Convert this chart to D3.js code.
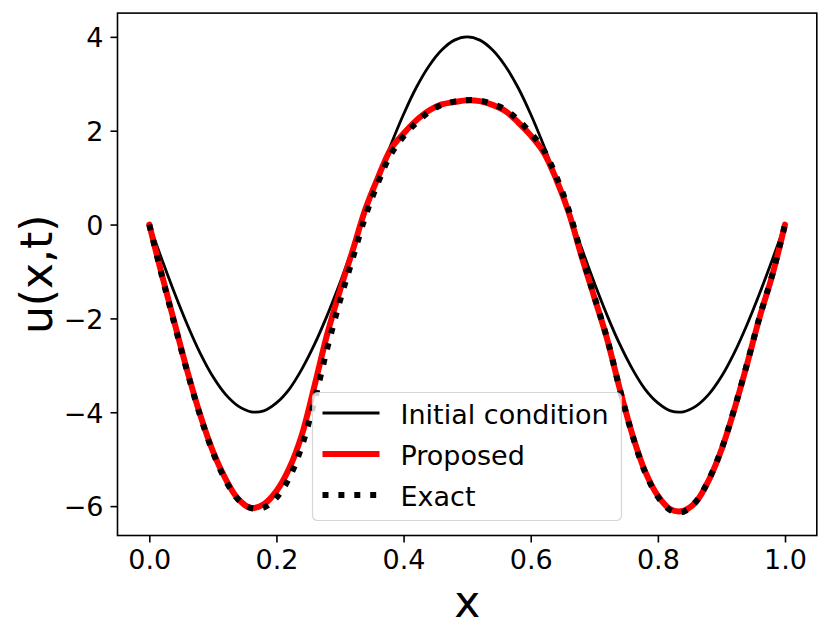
<!DOCTYPE html>
<html>
<head>
<meta charset="utf-8">
<script src="https://cdn.jsdelivr.net/npm/d3@7"></script>
<style>
  body { margin: 0; background: #fff; }
  text { font-family: "DejaVu Sans", sans-serif; }
</style>
</head>
<body>
<div id="chart"></div>
<script>
// values (x step 0.02)
const xValues = [0.00, 0.02, 0.04, 0.06, 0.08, 0.10, 0.12, 0.14, 0.16, 0.18,
    0.20, 0.22, 0.24, 0.26, 0.28, 0.30, 0.32, 0.34, 0.36, 0.38,
    0.40, 0.42, 0.44, 0.46, 0.48, 0.50, 0.52, 0.54, 0.56, 0.58,
    0.60, 0.62, 0.64, 0.66, 0.68, 0.70, 0.72, 0.74, 0.76, 0.78,
    0.80, 0.82, 0.84, 0.86, 0.88, 0.90, 0.92, 0.94, 0.96, 0.98, 1.00];

const initialCondition = [0, -0.75, -1.47, -2.14, -2.74, -3.24, -3.62, -3.87, -3.99, -3.97,
    -3.80, -3.51, -3.08, -2.55, -1.93, -1.24, -0.50, 0.25, 0.99, 1.70,
    2.35, 2.92, 3.38, 3.72, 3.93, 4.00, 3.93, 3.72, 3.38, 2.92,
    2.35, 1.70, 0.99, 0.25, -0.50, -1.24, -1.93, -2.55, -3.08, -3.51,
    -3.80, -3.97, -3.99, -3.87, -3.62, -3.24, -2.74, -2.14, -1.47, -0.75, 0];

const proposed = [0, -1.08, -2.11, -3.13, -4.05, -4.83, -5.42, -5.85, -6.04, -5.96,
    -5.68, -5.20, -4.48, -3.43, -2.33, -1.40, -0.55, 0.33, 1.01, 1.61,
    1.94, 2.22, 2.43, 2.56, 2.61, 2.65, 2.63, 2.55, 2.42, 2.18,
    1.90, 1.55, 0.97, 0.25, -0.68, -1.55, -2.43, -3.50, -4.48, -5.26,
    -5.78, -6.07, -6.10, -5.91, -5.45, -4.80, -3.95, -2.99, -1.98, -1.08, 0];

const exact = [0, -1.10, -2.14, -3.15, -4.07, -4.85, -5.45, -5.86, -6.04, -6.03,
    -5.82, -5.40, -4.72, -3.75, -2.63, -1.62, -0.72, 0.18, 0.90, 1.50,
    1.88, 2.17, 2.40, 2.55, 2.62, 2.65, 2.64, 2.57, 2.45, 2.23,
    1.95, 1.60, 1.03, 0.30, -0.64, -1.53, -2.42, -3.50, -4.49, -5.28,
    -5.80, -6.09, -6.12, -5.90, -5.44, -4.79, -3.94, -2.98, -1.97, -1.07, 0];

const xTicks = [0, 0.2, 0.4, 0.6, 0.8, 1.0];
const yTicks = [-6, -4, -2, 0, 2, 4];
const seriesNames = ["Initial condition", "Proposed", "Exact"];

class LineChart {

    constructor(_config) {
        this.config = {
            parentElement: _config.parentElement,
            containerWidth: 831,
            containerHeight: 639,
            margin: {top: 13.1, right: 14.2, bottom: 103.5, left: 117.5}
        };
        this.initVis();
    }

    initVis() {
        let vis = this;
        const c = vis.config;
        c.width = c.containerWidth - c.margin.left - c.margin.right;
        c.height = c.containerHeight - c.margin.top - c.margin.bottom;

        vis.svg = d3.select(c.parentElement).append('svg')
            .attr('width', c.containerWidth)
            .attr('height', c.containerHeight);

        vis.svg.append('rect')
            .attr('width', c.containerWidth)
            .attr('height', c.containerHeight)
            .attr('fill', '#fff');

        vis.chart = vis.svg.append('g')
            .attr('transform', `translate(${c.margin.left},${c.margin.top})`);

        // matplotlib style 5% margins around the data
        const allY = initialCondition.concat(proposed, exact);
        const [yMin, yMax] = d3.extent(allY);
        const yPad = (yMax - yMin) * 0.05;
        const xPad = (d3.max(xValues) - d3.min(xValues)) * 0.05;

        vis.xScale = d3.scaleLinear()
            .domain([d3.min(xValues) - xPad, d3.max(xValues) + xPad])
            .range([0, c.width]);
        vis.yScale = d3.scaleLinear()
            .domain([yMin - yPad, yMax + yPad])
            .range([c.height, 0]);

        vis.series = [
            {name: seriesNames[0], values: initialCondition, color: '#000', width: 2.8, dash: null},
            {name: seriesNames[1], values: proposed, color: '#ff0000', width: 6, dash: null},
            {name: seriesNames[2], values: exact, color: '#000', width: 6, dash: '6,9.9'}
        ];

        vis.renderVis();
    }

    renderVis() {
        let vis = this;
        const c = vis.config;

        const line = d3.line()
            .x((d, i) => vis.xScale(xValues[i]))
            .y(d => vis.yScale(d))
            .curve(d3.curveCatmullRom.alpha(0.5));

        vis.chart.append('g')
            .attr('class', 'lines')
            .selectAll('path')
            .data(vis.series)
            .enter().append('path')
            .attr('d', d => line(d.values))
            .attr('fill', 'none')
            .attr('stroke', d => d.color)
            .attr('stroke-width', d => d.width)
            .attr('stroke-dasharray', d => d.dash)
            .attr('stroke-linejoin', 'round')
            .attr('stroke-linecap', d => d.dash ? 'butt' : 'round');

        // axes
        const xAxis = d3.axisBottom(vis.xScale)
            .tickValues(xTicks)
            .tickFormat(d3.format('.1f'))
            .tickSize(7).tickPadding(7);
        const yAxis = d3.axisLeft(vis.yScale)
            .tickValues(yTicks)
            .tickFormat(d3.format('d'))
            .tickSize(7).tickPadding(7);

        const gx = vis.chart.append('g')
            .attr('transform', `translate(0,${c.height})`)
            .call(xAxis);
        const gy = vis.chart.append('g')
            .call(yAxis);

        [gx, gy].forEach(g => {
            g.select('.domain').remove();
            g.attr('font-family', '"DejaVu Sans", sans-serif')
                .attr('font-size', 27);
            g.selectAll('.tick line').attr('stroke', '#000').attr('stroke-width', 1.6);
            g.selectAll('.tick text').attr('fill', '#000');
        });
        gy.selectAll('.tick text').attr('dy', '0.36em');

        // frame
        vis.chart.append('rect')
            .attr('width', c.width)
            .attr('height', c.height)
            .attr('fill', 'none')
            .attr('stroke', '#000')
            .attr('stroke-width', 1.6);

        // axis titles
        vis.svg.append('text')
            .attr('x', c.margin.left + c.width / 2)
            .attr('y', 617)
            .attr('text-anchor', 'middle')
            .attr('font-size', 44)
            .text('x');

        vis.svg.append('text')
            .attr('transform', `translate(52,${c.margin.top + c.height / 2}) rotate(-90)`)
            .attr('text-anchor', 'middle')
            .attr('font-size', 44)
            .text('u(x,t)');

        vis.renderLegend();
    }

    renderLegend() {
        let vis = this;
        const legend = vis.svg.append('g')
            .attr('class', 'legend')
            .attr('transform', 'translate(312.5,392.5)');

        legend.append('rect')
            .attr('width', 309)
            .attr('height', 128)
            .attr('rx', 5)
            .attr('fill', '#fff')
            .attr('fill-opacity', 0.8)
            .attr('stroke', '#cccccc')
            .attr('stroke-opacity', 0.8)
            .attr('stroke-width', 1.2);

        const rows = legend.selectAll('g.row')
            .data(vis.series)
            .enter().append('g')
            .attr('class', 'row')
            .attr('transform', (d, i) => `translate(0,${20.5 + i * 41})`);

        rows.append('line')
            .attr('x1', 10).attr('x2', 67)
            .attr('stroke', d => d.color)
            .attr('stroke-width', d => d.width)
            .attr('stroke-dasharray', d => d.dash);

        rows.append('text')
            .attr('x', 88)
            .attr('y', 10.5)
            .attr('font-size', 27)
            .attr('fill', '#000')
            .text(d => d.name);
    }
}

new LineChart({parentElement: '#chart'});
</script>
</body>
</html>
